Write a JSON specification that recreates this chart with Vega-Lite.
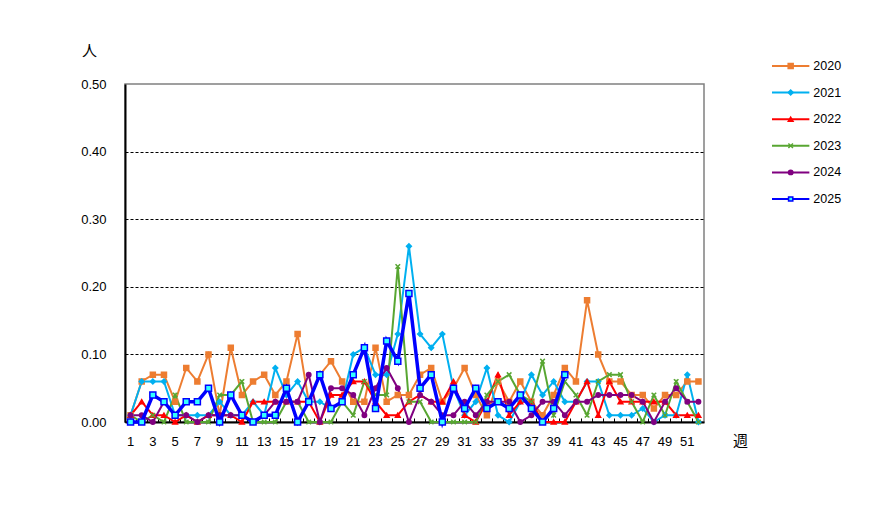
{
  "$schema": "https://vega.github.io/schema/vega-lite/v6.json",
  "background": "white",
  "padding": {"left": 79, "top": 42, "right": 10, "bottom": 10},
  "bounds": "flush",
  "spacing": 68,
  "resolve": {"scale": {"x": "independent", "y": "independent"}},
  "config": {"view": {"stroke": "#808080", "strokeWidth": 1.5}, "font": "Liberation Sans"},
  "datasets": {
    "weekly": [
      {"w": 1, "2020": 0.01, "2021": 0.01, "2022": 0.01, "2023": 0.01, "2024": 0.01, "2025": 0.00},
      {"w": 2, "2020": 0.06, "2021": 0.06, "2022": 0.03, "2023": 0.00, "2024": 0.01, "2025": 0.00},
      {"w": 3, "2020": 0.07, "2021": 0.06, "2022": 0.01, "2023": 0.01, "2024": 0.00, "2025": 0.04},
      {"w": 4, "2020": 0.07, "2021": 0.06, "2022": 0.01, "2023": 0.00, "2024": 0.03, "2025": 0.03},
      {"w": 5, "2020": 0.03, "2021": 0.01, "2022": 0.00, "2023": 0.04, "2024": 0.01, "2025": 0.01},
      {"w": 6, "2020": 0.08, "2021": 0.01, "2022": 0.01, "2023": 0.00, "2024": 0.01, "2025": 0.03},
      {"w": 7, "2020": 0.06, "2021": 0.01, "2022": 0.00, "2023": 0.00, "2024": 0.00, "2025": 0.03},
      {"w": 8, "2020": 0.10, "2021": 0.01, "2022": 0.01, "2023": 0.00, "2024": 0.01, "2025": 0.05},
      {"w": 9, "2020": 0.01, "2021": 0.03, "2022": 0.01, "2023": 0.04, "2024": 0.01, "2025": 0.00},
      {"w": 10, "2020": 0.11, "2021": 0.01, "2022": 0.01, "2023": 0.04, "2024": 0.01, "2025": 0.04},
      {"w": 11, "2020": 0.04, "2021": 0.01, "2022": 0.00, "2023": 0.06, "2024": 0.01, "2025": 0.01},
      {"w": 12, "2020": 0.06, "2021": 0.03, "2022": 0.03, "2023": 0.00, "2024": 0.00, "2025": 0.00},
      {"w": 13, "2020": 0.07, "2021": 0.01, "2022": 0.03, "2023": 0.00, "2024": 0.01, "2025": 0.01},
      {"w": 14, "2020": 0.04, "2021": 0.08, "2022": 0.03, "2023": 0.00, "2024": 0.03, "2025": 0.01},
      {"w": 15, "2020": 0.06, "2021": 0.04, "2022": 0.03, "2023": 0.03, "2024": 0.03, "2025": 0.05},
      {"w": 16, "2020": 0.13, "2021": 0.06, "2022": 0.03, "2023": 0.03, "2024": 0.03, "2025": 0.00},
      {"w": 17, "2020": 0.03, "2021": 0.03, "2022": 0.03, "2023": 0.00, "2024": 0.07, "2025": 0.03},
      {"w": 18, "2020": 0.07, "2021": 0.03, "2022": 0.00, "2023": 0.00, "2024": 0.00, "2025": 0.07},
      {"w": 19, "2020": 0.09, "2021": 0.02, "2022": 0.04, "2023": 0.00, "2024": 0.05, "2025": 0.02},
      {"w": 20, "2020": 0.06, "2021": 0.03, "2022": 0.04, "2023": 0.03, "2024": 0.05, "2025": 0.03},
      {"w": 21, "2020": 0.03, "2021": 0.10, "2022": 0.06, "2023": 0.01, "2024": 0.04, "2025": 0.07},
      {"w": 22, "2020": 0.03, "2021": 0.11, "2022": 0.06, "2023": 0.06, "2024": 0.01, "2025": 0.11},
      {"w": 23, "2020": 0.11, "2021": 0.07, "2022": 0.03, "2023": 0.04, "2024": 0.05, "2025": 0.02},
      {"w": 24, "2020": 0.03, "2021": 0.07, "2022": 0.01, "2023": 0.04, "2024": 0.08, "2025": 0.12},
      {"w": 25, "2020": 0.04, "2021": 0.13, "2022": 0.01, "2023": 0.23, "2024": 0.05, "2025": 0.09},
      {"w": 26, "2020": 0.04, "2021": 0.26, "2022": 0.03, "2023": 0.03, "2024": 0.00, "2025": 0.19},
      {"w": 27, "2020": 0.07, "2021": 0.13, "2022": 0.04, "2023": 0.03, "2024": 0.04, "2025": 0.05},
      {"w": 28, "2020": 0.08, "2021": 0.11, "2022": 0.03, "2023": 0.00, "2024": 0.03, "2025": 0.07},
      {"w": 29, "2020": 0.03, "2021": 0.13, "2022": 0.03, "2023": 0.00, "2024": 0.01, "2025": 0.00},
      {"w": 30, "2020": 0.05, "2021": 0.05, "2022": 0.06, "2023": 0.00, "2024": 0.01, "2025": 0.05},
      {"w": 31, "2020": 0.08, "2021": 0.01, "2022": 0.01, "2023": 0.00, "2024": 0.03, "2025": 0.02},
      {"w": 32, "2020": 0.04, "2021": 0.03, "2022": 0.00, "2023": 0.00, "2024": 0.01, "2025": 0.05},
      {"w": 33, "2020": 0.01, "2021": 0.08, "2022": 0.03, "2023": 0.04, "2024": 0.03, "2025": 0.02},
      {"w": 34, "2020": 0.06, "2021": 0.01, "2022": 0.07, "2023": 0.06, "2024": 0.03, "2025": 0.03},
      {"w": 35, "2020": 0.03, "2021": 0.00, "2022": 0.01, "2023": 0.07, "2024": 0.03, "2025": 0.02},
      {"w": 36, "2020": 0.06, "2021": 0.03, "2022": 0.03, "2023": 0.04, "2024": 0.00, "2025": 0.04},
      {"w": 37, "2020": 0.03, "2021": 0.07, "2022": 0.03, "2023": 0.03, "2024": 0.01, "2025": 0.02},
      {"w": 38, "2020": 0.01, "2021": 0.04, "2022": 0.00, "2023": 0.09, "2024": 0.03, "2025": 0.00},
      {"w": 39, "2020": 0.04, "2021": 0.06, "2022": 0.00, "2023": 0.01, "2024": 0.03, "2025": 0.02},
      {"w": 40, "2020": 0.08, "2021": 0.03, "2022": 0.00, "2023": 0.06, "2024": 0.01, "2025": 0.07},
      {"w": 41, "2020": 0.06, "2021": 0.03, "2022": 0.03, "2023": 0.04, "2024": 0.03},
      {"w": 42, "2020": 0.18, "2021": 0.06, "2022": 0.06, "2023": 0.01, "2024": 0.03},
      {"w": 43, "2020": 0.10, "2021": 0.06, "2022": 0.01, "2023": 0.06, "2024": 0.04},
      {"w": 44, "2020": 0.06, "2021": 0.01, "2022": 0.06, "2023": 0.07, "2024": 0.04},
      {"w": 45, "2020": 0.06, "2021": 0.01, "2022": 0.03, "2023": 0.07, "2024": 0.04},
      {"w": 46, "2020": 0.04, "2021": 0.01, "2022": 0.03, "2023": 0.03, "2024": 0.04},
      {"w": 47, "2020": 0.04, "2021": 0.02, "2022": 0.03, "2023": 0.00, "2024": 0.03},
      {"w": 48, "2020": 0.02, "2021": 0.00, "2022": 0.03, "2023": 0.04, "2024": 0.00},
      {"w": 49, "2020": 0.04, "2021": 0.01, "2022": 0.03, "2023": 0.01, "2024": 0.03},
      {"w": 50, "2020": 0.04, "2021": 0.01, "2022": 0.01, "2023": 0.06, "2024": 0.05},
      {"w": 51, "2020": 0.06, "2021": 0.07, "2022": 0.01, "2023": 0.03, "2024": 0.03},
      {"w": 52, "2020": 0.06, "2021": 0.00, "2022": 0.01, "2023": 0.00, "2024": 0.03}
    ],
    "years": [
      {"year": "2020"}, {"year": "2021"}, {"year": "2022"},
      {"year": "2023"}, {"year": "2024"}, {"year": "2025"}
    ]
  },
  "hconcat": [
    {
      "width": 579,
      "height": 338,
      "data": {"name": "weekly"},
      "transform": [
        {"fold": ["2020", "2021", "2022", "2023", "2024", "2025"], "as": ["year", "v"]},
        {"filter": "isValid(datum.v)"}
      ],
      "encoding": {
        "x": {
          "field": "w",
          "type": "ordinal",
          "scale": {"type": "band", "paddingInner": 0, "paddingOuter": 0},
          "axis": {
            "title": "週",
            "titleFont": "Noto Sans CJK JP",
            "titleFontSize": 15,
            "titleFontWeight": "normal",
            "titleColor": "black",
            "titleX": 615,
            "titleY": 18,
            "titleAlign": "center",
            "titleBaseline": "middle",
            "labelAngle": 0,
            "labelExpr": "datum.value % 2 == 1 ? datum.label : ''",
            "labelOverlap": false,
            "labelFontSize": 13,
            "labelColor": "black",
            "labelPadding": 17,
            "bandPosition": 0,
            "tickSize": -4,
            "tickColor": "black",
            "domainColor": "black",
            "domainWidth": 2,
            "grid": false
          }
        },
        "y": {
          "field": "v",
          "type": "quantitative",
          "scale": {"domain": [0, 0.5], "nice": false},
          "axis": {
            "title": "人",
            "titleFont": "Noto Sans CJK JP",
            "titleFontSize": 15,
            "titleFontWeight": "normal",
            "titleColor": "black",
            "titleAngle": 0,
            "titleX": -36,
            "titleY": -34,
            "titleAlign": "center",
            "titleBaseline": "middle",
            "values": [0, 0.1, 0.2, 0.3, 0.4, 0.5],
            "format": ".2f",
            "labelFontSize": 13,
            "labelColor": "black",
            "labelPadding": 19,
            "ticks": false,
            "grid": true,
            "gridColor": {"condition": {"test": "datum.value >= 0.5", "value": "transparent"}, "value": "black"},
            "gridDash": [3, 2],
            "gridWidth": 1,
            "domainColor": "black",
            "domainWidth": 2
          }
        }
      },
      "layer": [
        {
          "transform": [{"filter": "datum.year != '2025'"}],
          "mark": {"type": "line", "strokeWidth": 2},
          "encoding": {
            "color": {
              "field": "year",
              "type": "nominal",
              "scale": {"domain": ["2020", "2021", "2022", "2023", "2024", "2025"], "range": ["#ED7D31", "#00B0F0", "#FF0000", "#58A632", "#800080", "#0000FF"]},
              "legend": null
            }
          }
        },
        {
          "transform": [{"filter": "datum.year != '2025'"}],
          "mark": {"type": "point", "filled": true, "opacity": 1, "strokeWidth": 1.5},
          "encoding": {
            "shape": {
              "field": "year",
              "type": "nominal",
              "scale": {"domain": ["2020", "2021", "2022", "2023", "2024", "2025"], "range": ["square", "diamond", "triangle-up", "M-1,-1L1,1M1,-1L-1,1", "circle", "square"]},
              "legend": null
            },
            "fill": {
              "field": "year",
              "type": "nominal",
              "scale": {"domain": ["2020", "2021", "2022", "2023", "2024", "2025"], "range": ["#ED7D31", "#00B0F0", "#FF0000", "#58A632", "#800080", "#33FFFF"]},
              "legend": null
            },
            "stroke": {
              "field": "year",
              "type": "nominal",
              "scale": {"domain": ["2020", "2021", "2022", "2023", "2024", "2025"], "range": ["#ED7D31", "#00B0F0", "#FF0000", "#58A632", "#800080", "#0000FF"]},
              "legend": null
            },
            "size": {
              "field": "year",
              "type": "nominal",
              "scale": {"domain": ["2020", "2021", "2022", "2023", "2024", "2025"], "range": [25, 18, 22, 30, 25, 36]},
              "legend": null
            }
          }
        },
        {
          "transform": [{"filter": "datum.year == '2025'"}],
          "mark": {"type": "line", "strokeWidth": 3.5, "color": "#0000FF"},
          "encoding": {}
        },
        {
          "transform": [{"filter": "datum.year == '2025'"}],
          "mark": {"type": "point", "shape": "square", "filled": true, "opacity": 1, "fill": "#33FFFF", "stroke": "#0000FF", "strokeWidth": 1.5, "size": 36},
          "encoding": {}
        }
      ]
    },
    {
      "width": 41,
      "height": 338,
      "view": {"stroke": null},
      "data": {"name": "years"},
      "encoding": {
        "y": {
          "field": "year",
          "type": "ordinal",
          "scale": {"type": "point", "domain": ["2020", "2021", "2022", "2023", "2024", "2025"], "range": [-18, 115], "padding": 0},
          "axis": null
        }
      },
      "layer": [
        {
          "mark": {"type": "rule"},
          "encoding": {
            "x": {"datum": 0, "type": "quantitative", "scale": {"domain": [0, 41]}, "axis": null},
            "x2": {"datum": 41},
            "color": {
              "field": "year",
              "type": "nominal",
              "scale": {"domain": ["2020", "2021", "2022", "2023", "2024", "2025"], "range": ["#ED7D31", "#00B0F0", "#FF0000", "#58A632", "#800080", "#0000FF"]},
              "legend": null
            },
            "strokeWidth": {
              "field": "year",
              "type": "nominal",
              "scale": {"domain": ["2020", "2021", "2022", "2023", "2024", "2025"], "range": [2, 2, 2, 2, 2, 3.5]},
              "legend": null
            }
          }
        },
        {
          "mark": {"type": "point", "filled": true, "opacity": 1, "strokeWidth": 1.5},
          "encoding": {
            "x": {"datum": 20.5, "type": "quantitative"},
            "shape": {
              "field": "year",
              "type": "nominal",
              "scale": {"domain": ["2020", "2021", "2022", "2023", "2024", "2025"], "range": ["square", "diamond", "triangle-up", "M-1,-1L1,1M1,-1L-1,1", "circle", "square"]},
              "legend": null
            },
            "fill": {
              "field": "year",
              "type": "nominal",
              "scale": {"domain": ["2020", "2021", "2022", "2023", "2024", "2025"], "range": ["#ED7D31", "#00B0F0", "#FF0000", "#58A632", "#800080", "#33FFFF"]},
              "legend": null
            },
            "stroke": {
              "field": "year",
              "type": "nominal",
              "scale": {"domain": ["2020", "2021", "2022", "2023", "2024", "2025"], "range": ["#ED7D31", "#00B0F0", "#FF0000", "#58A632", "#800080", "#0000FF"]},
              "legend": null
            },
            "size": {
              "field": "year",
              "type": "nominal",
              "scale": {"domain": ["2020", "2021", "2022", "2023", "2024", "2025"], "range": [25, 18, 22, 30, 25, 36]},
              "legend": null
            }
          }
        },
        {
          "mark": {"type": "text", "align": "left", "baseline": "middle", "dx": 4, "fontSize": 12.5, "color": "black"},
          "encoding": {
            "x": {"datum": 41, "type": "quantitative"},
            "text": {"field": "year"}
          }
        }
      ]
    }
  ]
}
